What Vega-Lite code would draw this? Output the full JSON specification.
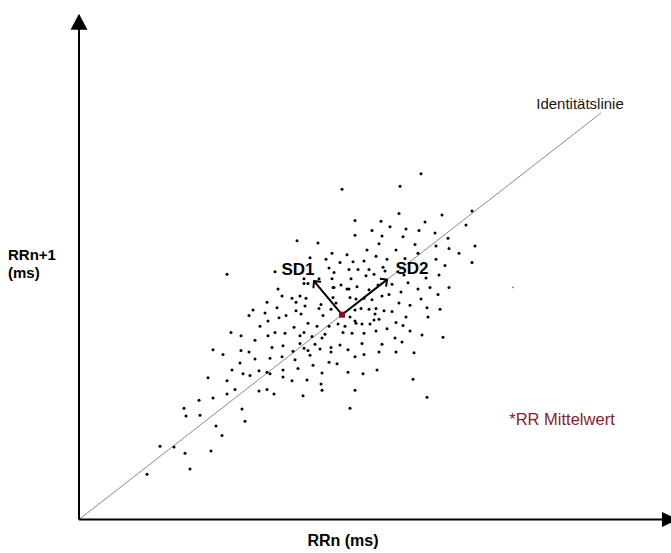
{
  "$schema": "https://vega.github.io/schema/vega-lite/v6.json",
  "width": 671,
  "height": 553,
  "padding": 0,
  "autosize": {"type": "none"},
  "background": "white",
  "config": {"view": {"stroke": null}},
  "datasets": {
    "points": [
      {"x":763,"y":924},{"x":718,"y":858},{"x":739,"y":855},{"x":753,"y":842},{"x":768,"y":840},{"x":731,"y":836},{"x":747,"y":834},{"x":761,"y":830},{"x":648,"y":815},{"x":696,"y":818},
      {"x":750,"y":823},{"x":755,"y":817},{"x":770,"y":821},{"x":725,"y":809},{"x":725,"y":803},{"x":729,"y":803},{"x":740,"y":809},{"x":753,"y":809},{"x":762,"y":801},{"x":699,"y":796},
      {"x":755,"y":798},{"x":770,"y":796},{"x":703,"y":787},{"x":713,"y":784},{"x":721,"y":787},{"x":727,"y":784},{"x":688,"y":779},{"x":717,"y":779},{"x":742,"y":776},{"x":674,"y":769},
      {"x":686,"y":765},{"x":707,"y":762},{"x":726,"y":774},{"x":722,"y":764},{"x":740,"y":771},{"x":744,"y":762},{"x":752,"y":770},{"x":670,"y":762},{"x":700,"y":759},{"x":717,"y":768},
      {"x":842,"y":944},{"x":821,"y":928},{"x":820,"y":893},{"x":863,"y":891},{"x":893,"y":896},{"x":776,"y":884},{"x":802,"y":883},{"x":846,"y":882},{"x":811,"y":876},{"x":827,"y":873},
      {"x":793,"y":871},{"x":840,"y":871},{"x":856,"y":868},{"x":887,"y":878},{"x":776,"y":865},{"x":803,"y":864},{"x":824,"y":863},{"x":869,"y":861},{"x":800,"y":854},{"x":836,"y":853},
      {"x":857,"y":851},{"x":896,"y":851},{"x":788,"y":846},{"x":817,"y":846},{"x":870,"y":848},{"x":797,"y":838},{"x":839,"y":842},{"x":880,"y":842},{"x":774,"y":831},{"x":785,"y":832},
      {"x":808,"y":834},{"x":826,"y":835},{"x":857,"y":834},{"x":893,"y":830},{"x":779,"y":821},{"x":790,"y":821},{"x":804,"y":824},{"x":806,"y":819},{"x":866,"y":826},{"x":787,"y":813},
      {"x":795,"y":815},{"x":825,"y":814},{"x":847,"y":810},{"x":860,"y":814},{"x":772,"y":809},{"x":754,"y":798},{"x":768,"y":796},{"x":778,"y":799},{"x":790,"y":795},
      {"x":799,"y":801},{"x":813,"y":802},{"x":829,"y":804},{"x":839,"y":796},{"x":851,"y":798},{"x":870,"y":798},{"x":810,"y":789},{"x":822,"y":792},{"x":803,"y":787},{"x":859,"y":789},
      {"x":771,"y":785},{"x":777,"y":783},{"x":785,"y":784},{"x":793,"y":782},{"x":820,"y":778},{"x":842,"y":783},{"x":754,"y":785},{"x":757,"y":778},{"x":782,"y":771},{"x":790,"y":770},
      {"x":797,"y":771},{"x":805,"y":768},{"x":813,"y":767},{"x":831,"y":775},{"x":848,"y":772},{"x":861,"y":770},{"x":796,"y":764},{"x":827,"y":760},{"x":849,"y":760},{"x":771,"y":760},
      {"x":800,"y":757},{"x":776,"y":769},{"x":759,"y":751},{"x":766,"y":748},{"x":776,"y":755},{"x":777,"y":752},{"x":783,"y":751},{"x":791,"y":751},{"x":795,"y":756},{"x":808,"y":745},
      {"x":817,"y":753},{"x":824,"y":749},{"x":831,"y":742},{"x":843,"y":737},{"x":864,"y":734},{"x":764,"y":740},{"x":773,"y":739},{"x":785,"y":739},{"x":797,"y":742},{"x":816,"y":733},
      {"x":823,"y":728},{"x":803,"y":725},{"x":783,"y":726},{"x":761,"y":724},{"x":752,"y":721},{"x":752,"y":715},{"x":769,"y":718},{"x":785,"y":712},{"x":776,"y":709},{"x":800,"y":715},
      {"x":817,"y":715},{"x":835,"y":714},{"x":758,"y":700},{"x":769,"y":689},{"x":784,"y":687},{"x":798,"y":692},{"x":834,"y":680},{"x":776,"y":666},{"x":848,"y":657},{"x":771,"y":643},
      {"x":689,"y":755},{"x":729,"y":752},{"x":738,"y":748},{"x":681,"y":748},{"x":715,"y":747},{"x":750,"y":748},{"x":652,"y":740},{"x":662,"y":736},{"x":689,"y":736},{"x":696,"y":740},
      {"x":706,"y":739},{"x":725,"y":740},{"x":721,"y":736},{"x":733,"y":735},{"x":746,"y":738},{"x":743,"y":733},{"x":676,"y":730},{"x":721,"y":726},{"x":736,"y":725},{"x":704,"y":723},
      {"x":725,"y":720},{"x":729,"y":717},{"x":741,"y":719},{"x":693,"y":721},{"x":662,"y":717},{"x":634,"y":718},{"x":670,"y":715},{"x":644,"y":712},{"x":714,"y":716},{"x":731,"y":711},
      {"x":691,"y":707},{"x":703,"y":709},{"x":676,"y":706},{"x":716,"y":705},{"x":750,"y":702},{"x":661,"y":701},{"x":734,"y":698},{"x":653,"y":692},{"x":680,"y":691},{"x":688,"y":689},
      {"x":704,"y":692},{"x":719,"y":694},{"x":664,"y":687},{"x":671,"y":685},{"x":691,"y":687},{"x":743,"y":688},{"x":629,"y":682},{"x":648,"y":678},{"x":704,"y":683},{"x":713,"y":678},
      {"x":728,"y":679},{"x":742,"y":674},{"x":656,"y":667},{"x":680,"y":665},{"x":688,"y":667},{"x":743,"y":666},{"x":648,"y":661},{"x":695,"y":661},{"x":724,"y":659},{"x":634,"y":656},
      {"x":620,"y":653},{"x":605,"y":643},{"x":663,"y":642},{"x":607,"y":633},{"x":621,"y":634},{"x":666,"y":626},{"x":637,"y":620},{"x":643,"y":608},{"x":581,"y":594},{"x":595,"y":593},
      {"x":632,"y":588},{"x":606,"y":585},{"x":611,"y":565},{"x":568,"y":558},{"x":698,"y":772}
    ],
    "faint": [{"x": 934, "y": 798}],
    "identity": [{"x": 500, "y": 500, "x2": 1022, "y2": 1022}],
    "axes": [
      {"axis": "x", "x": 500, "y": 500, "x2": 1085, "y2": 500},
      {"axis": "y", "x": 500, "y": 500, "x2": 500, "y2": 1139}
    ],
    "axisheads": [
      {"axis": "x", "x": 1091, "y": 500},
      {"axis": "y", "x": 500, "y": 1139}
    ],
    "sd": [
      {"name": "SD1", "x": 763, "y": 763, "x2": 735, "y2": 806},
      {"name": "SD2", "x": 763, "y": 763, "x2": 808, "y2": 808}
    ],
    "mean": [{"x": 763, "y": 763}],
    "labels": [
      {"kind": "sd", "text": "SD1", "x": 719, "y": 820},
      {"kind": "sd", "text": "SD2", "x": 833, "y": 822},
      {"kind": "axis", "text": "RRn+1", "x": 429, "y": 840},
      {"kind": "axis", "text": "(ms)", "x": 429, "y": 816},
      {"kind": "xaxis", "text": "RRn (ms)", "x": 764, "y": 472},
      {"kind": "id", "text": "Identitätslinie", "x": 1001, "y": 1033},
      {"kind": "mean", "text": "*RR Mittelwert", "x": 983, "y": 628}
    ]
  },
  "encoding": {
    "x": {"field": "x", "type": "quantitative", "scale": {"domain": [421, 1092], "nice": false, "zero": false}, "axis": null},
    "y": {"field": "y", "type": "quantitative", "scale": {"domain": [457, 1167], "nice": false, "zero": false}, "axis": null}
  },
  "layer": [
    {
      "data": {"name": "identity"},
      "mark": {"type": "rule", "color": "#8a8a8a", "strokeWidth": 1},
      "encoding": {"x2": {"field": "x2"}, "y2": {"field": "y2"}}
    },
    {
      "data": {"name": "axes"},
      "mark": {"type": "rule", "color": "#000000", "strokeWidth": 2},
      "encoding": {"x2": {"field": "x2"}, "y2": {"field": "y2"}}
    },
    {
      "data": {"name": "axisheads"},
      "transform": [{"filter": "datum.axis === 'y'"}],
      "mark": {"type": "point", "shape": "M0,-1L1.06,1L-1.06,1Z", "size": 256, "filled": true, "color": "#000000", "opacity": 1}
    },
    {
      "data": {"name": "axisheads"},
      "transform": [{"filter": "datum.axis === 'x'"}],
      "mark": {"type": "point", "shape": "M1,0L-1,0.94L-1,-0.94Z", "size": 256, "filled": true, "color": "#000000", "opacity": 1}
    },
    {
      "data": {"name": "points"},
      "mark": {"type": "point", "shape": "circle", "filled": true, "size": 9, "color": "#000000", "opacity": 1}
    },
    {
      "data": {"name": "faint"},
      "mark": {"type": "point", "shape": "circle", "filled": true, "size": 3, "color": "#777777", "opacity": 1}
    },
    {
      "data": {"name": "sd"},
      "mark": {"type": "rule", "color": "#000000", "strokeWidth": 2},
      "encoding": {"x2": {"field": "x2"}, "y2": {"field": "y2"}}
    },
    {
      "data": {"name": "sd"},
      "transform": [{"filter": "datum.name === 'SD1'"}],
      "mark": {"type": "point", "shape": "M-1,1L0,0L1,1", "size": 100, "filled": false, "stroke": "#000000", "strokeWidth": 2, "angle": 320, "opacity": 1},
      "encoding": {"x": {"field": "x2", "type": "quantitative"}, "y": {"field": "y2", "type": "quantitative"}}
    },
    {
      "data": {"name": "sd"},
      "transform": [{"filter": "datum.name === 'SD2'"}],
      "mark": {"type": "point", "shape": "M-1,1L0,0L1,1", "size": 100, "filled": false, "stroke": "#000000", "strokeWidth": 2, "angle": 52, "opacity": 1},
      "encoding": {"x": {"field": "x2", "type": "quantitative"}, "y": {"field": "y2", "type": "quantitative"}}
    },
    {
      "data": {"name": "mean"},
      "mark": {"type": "point", "shape": "square", "filled": true, "size": 36, "color": "#8B0A1E", "opacity": 1}
    },
    {
      "data": {"name": "labels"},
      "transform": [{"filter": "datum.kind === 'sd'"}],
      "mark": {"type": "text", "font": "Liberation Sans", "fontSize": 17, "fontWeight": "bold", "color": "#000000", "align": "center", "baseline": "middle"},
      "encoding": {"text": {"field": "text"}}
    },
    {
      "data": {"name": "labels"},
      "transform": [{"filter": "datum.kind === 'axis'"}],
      "mark": {"type": "text", "font": "Liberation Sans", "fontSize": 15, "fontWeight": "bold", "color": "#000000", "align": "left", "baseline": "middle"},
      "encoding": {"text": {"field": "text"}}
    },
    {
      "data": {"name": "labels"},
      "transform": [{"filter": "datum.kind === 'xaxis'"}],
      "mark": {"type": "text", "font": "Liberation Sans", "fontSize": 16, "fontWeight": "bold", "color": "#000000", "align": "center", "baseline": "middle"},
      "encoding": {"text": {"field": "text"}}
    },
    {
      "data": {"name": "labels"},
      "transform": [{"filter": "datum.kind === 'id'"}],
      "mark": {"type": "text", "font": "Liberation Sans", "fontSize": 15, "color": "#1e1414", "align": "center", "baseline": "middle"},
      "encoding": {"text": {"field": "text"}}
    },
    {
      "data": {"name": "labels"},
      "transform": [{"filter": "datum.kind === 'mean'"}],
      "mark": {"type": "text", "font": "Liberation Sans", "fontSize": 16.5, "color": "#8B1A2B", "align": "center", "baseline": "middle"},
      "encoding": {"text": {"field": "text"}}
    }
  ]
}
